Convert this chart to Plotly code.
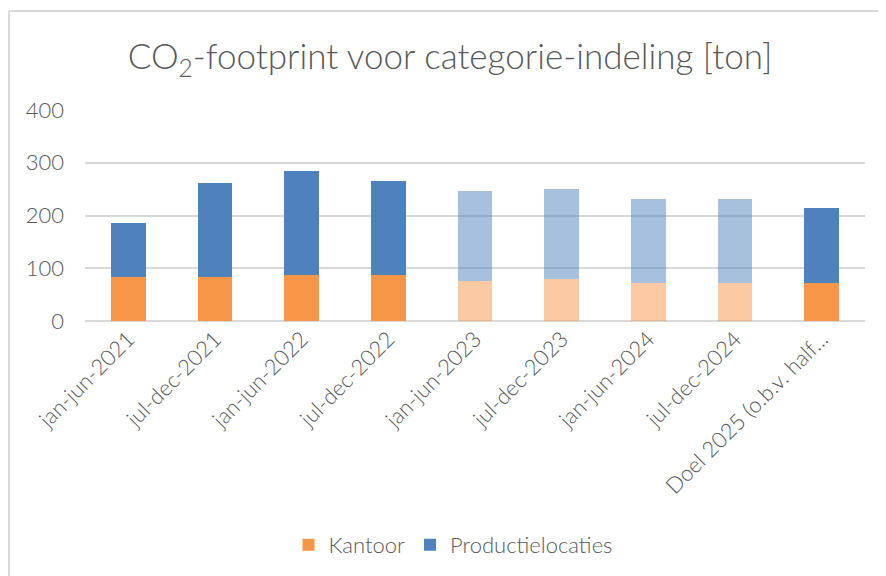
import plotly.graph_objects as go

categories = ["jan-jun-2021", "jul-dec-2021", "jan-jun-2022", "jul-dec-2022",
              "jan-jun-2023", "jul-dec-2023", "jan-jun-2024", "jul-dec-2024",
              "Doel 2025 (o.b.v. half..."]
kantoor = [84, 84, 87, 87, 75, 79, 72, 72, 72]
productielocaties = [102, 177, 198, 179, 172, 171, 160, 160, 143]
highlight = [True, True, True, True, False, False, False, False, True]

ORANGE = "#F79646"
ORANGE_LIGHT = "rgba(247,150,70,0.5)"
BLUE = "#4F81BD"
BLUE_LIGHT = "rgba(79,129,189,0.5)"

FONT = "Lato, 'Open Sans', sans-serif"
GREY = "#595959"

# page body has an 8px margin, so the figure is sized to the visible area
W, H = 878, 568
PL, PR, PT, PB = 77, 857, 102, 313   # plot area edges in figure pixels
PW, PH = PR - PL, PB - PT

fig = go.Figure()
fig.add_trace(go.Bar(
    x=categories, y=kantoor, name="Kantoor",
    marker=dict(color=[ORANGE if h else ORANGE_LIGHT for h in highlight], line=dict(width=0)),
))
fig.add_trace(go.Bar(
    x=categories, y=productielocaties, name="Productielocaties",
    marker=dict(color=[BLUE if h else BLUE_LIGHT for h in highlight], line=dict(width=0)),
))

fig.update_layout(
    barmode="stack",
    bargap=0.6,
    width=W, height=H,
    margin=dict(l=PL, r=W - PR, t=PT, b=H - PB, autoexpand=False),
    plot_bgcolor="white", paper_bgcolor="white",
    font=dict(family=FONT, color=GREY),
    title=dict(
        text="CO<sub>2</sub>-footprint voor categorie-indeling [ton]",
        x=442 / W, xref="container", xanchor="center",
        y=1 - 49 / H, yref="container", yanchor="middle",
        font=dict(family=FONT, size=35, color=GREY, weight=300),
    ),
    xaxis=dict(
        tickangle=-45, tickfont=dict(size=22, color=GREY, weight=300),
        showgrid=False, showline=False, ticks="", automargin=False,
    ),
    yaxis=dict(
        range=[0, 400], dtick=100, tickfont=dict(size=22, color=GREY, weight=300),
        showgrid=True, gridcolor="#D9D9D9", gridwidth=2,
        zeroline=True, zerolinecolor="#D9D9D9", zerolinewidth=2,
        showline=False, ticks="", ticklabelstandoff=20, automargin=False,
    ),
    legend=dict(
        orientation="h", x=(445 - PL) / PW, xanchor="center",
        y=(PB - 537) / PH, yanchor="middle",
        font=dict(size=22, color=GREY, weight=300),
        itemwidth=30, traceorder="normal",
    ),
    shapes=[
        dict(type="line", xref="paper", yref="paper",
             x0=(1 - PL) / PW, x1=(W - PL) / PW,
             y0=(PB - 3) / PH, y1=(PB - 3) / PH,
             line=dict(color="#D9D9D9", width=2)),
        dict(type="line", xref="paper", yref="paper",
             x0=(1 - PL) / PW, x1=(1 - PL) / PW,
             y0=(PB - 3) / PH, y1=(PB - H) / PH,
             line=dict(color="#D9D9D9", width=2)),
    ],
)

fig.write_html("out.html")
